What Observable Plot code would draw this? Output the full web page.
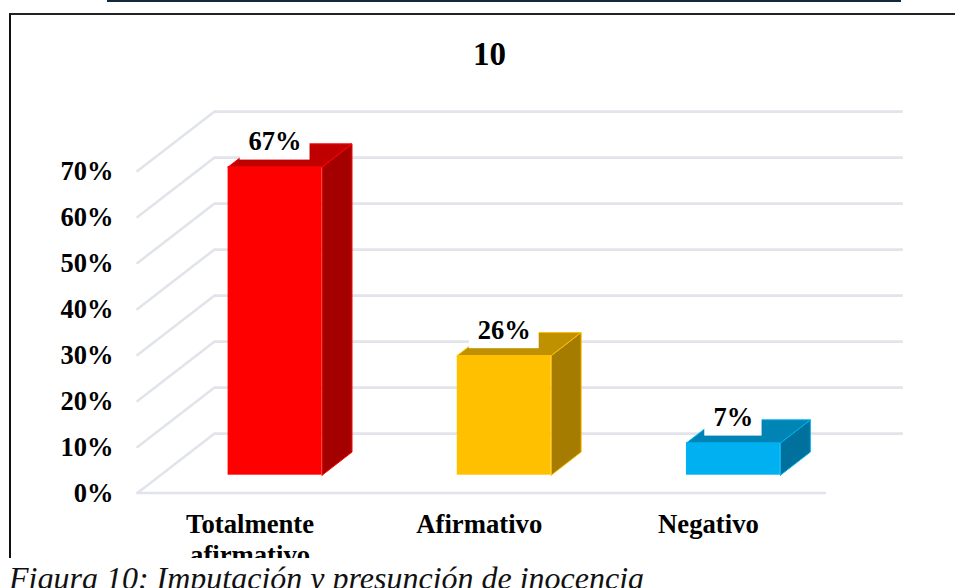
<!DOCTYPE html>
<html>
<head>
<meta charset="utf-8">
<script src="https://cdn.jsdelivr.net/npm/d3@7"></script>
<script src="https://cdn.jsdelivr.net/npm/@observablehq/plot@0.6"></script>
<style>
  html, body { margin: 0; padding: 0; background: #fff; width: 955px; height: 588px; overflow: hidden; }
  #chart { position: absolute; left: 0; top: 0; width: 955px; height: 558px; overflow: hidden; }
  #chart svg { display: block; overflow: hidden; }
  #rule { position: absolute; left: 107px; top: 0; width: 794px; height: 2px; background: #14293a; }
  #frame { position: absolute; left: 8.5px; top: 13px; width: 946.5px; height: 545px; box-sizing: border-box; border-left: 2.5px solid #111; border-top: 2.5px solid #222; }
  #caption { position: absolute; left: 9px; top: 560px; font: italic 32px "Liberation Serif", serif; color: #111; white-space: nowrap; line-height: 36px; }
</style>
</head>
<body>
<div id="chart"></div>
<div id="rule"></div>
<div id="frame"></div>
<div id="caption">Figura 10: Imputación y presunción de inocencia</div>
<script>
const titleText = "10";
const categories = ["Totalmente\nafirmativo", "Afirmativo", "Negativo"];
const values = [67, 26, 7];
const yTicks = [0, 10, 20, 30, 40, 50, 60, 70];
const frontColors = ["#FF0000", "#FFC000", "#00B0F0"];
const sideColors = ["#A50000", "#A67C00", "#00709C"];
const topColors = ["#C00000", "#BF9000", "#0084B5"];
const labelBoxWidths = [0.305, 0.305, 0.25];

// Oblique projection of the 3-D chart: one unit of depth z moves a point this far in data units.
const kx = 0.335, ky = 12.9;
const zFront = -0.3, zBack = 0.7, barDepth = 0.39, halfBar = 0.205;
const P = (x, y, z = 0) => ({x: x + z * kx, y: y + z * ky});
const idx = categories.map((_, i) => i);
const n = categories.length;
const fontFamily = '"Liberation Serif", "Times New Roman", serif';

const gridLines = yTicks.flatMap(t => {
  const pts = [P(-0.5, t, zBack), P(n - 0.5, t, zBack)];
  return [P(-0.5, t, zFront), ...pts].map(p => ({...p, tick: t}));
});
const floorFront = [P(-0.5, 0, zFront), P(n - 0.5, 0, zFront)];

const barFaces = idx.flatMap(i => {
  const l = i - halfBar, r = i + halfBar, v = values[i];
  const side = [P(r, 0), P(r, 0, barDepth), P(r, v, barDepth), P(r, v), P(r, 0)];
  const top = [P(l, v), P(r, v), P(r, v, barDepth), P(l, v, barDepth), P(l, v)];
  return [
    Plot.line(side, {x: "x", y: "y", fill: sideColors[i], stroke: frontColors[i], strokeWidth: 1}),
    Plot.line(top, {x: "x", y: "y", fill: topColors[i], stroke: frontColors[i], strokeWidth: 1})
  ];
});

const plot = Plot.plot({
  width: 955,
  height: 558,
  marginLeft: 113,
  marginRight: 0,
  marginTop: 0,
  marginBottom: 47,
  style: {background: "transparent", fontFamily},
  x: {type: "linear", domain: [-0.5, n - 0.5], range: [160, 847.5]},
  y: {domain: [0, 70], range: [474.7, 152.7]},
  marks: [
    Plot.line(gridLines, {x: "x", y: "y", z: "tick", stroke: "#E1E4EA", strokeWidth: 2.6}),
    Plot.line(floorFront, {x: "x", y: "y", stroke: "#E1E4EA", strokeWidth: 2.6}),
    Plot.axisY({
      ticks: yTicks, tickFormat: d => d + "%", tickSize: 0, tickPadding: 0, dy: 18,
      fontSize: 26.5, fontWeight: "bold", fill: "#000", label: null
    }),
    Plot.axisX({
      ticks: idx, tickFormat: i => categories[i], tickSize: 0, tickPadding: 0, dx: -25,
      fontSize: 26.7, fontWeight: "bold", fill: "#000", label: null, lineHeight: 1.15
    }),
    ...barFaces,
    Plot.rectY(idx, {
      x1: i => i - halfBar, x2: i => i + halfBar, y1: 0, y2: i => values[i],
      fill: i => frontColors[i]
    }),
    Plot.rect(idx, {
      x1: i => i - labelBoxWidths[i] / 2, x2: i => i + labelBoxWidths[i] / 2,
      y1: i => values[i] + 1.5, y2: i => values[i] + 8,
      fill: "#fff"
    }),
    Plot.text(idx, {
      x: i => i, y: i => values[i], dy: -25,
      text: i => values[i] + "%",
      fontSize: 26.5, fontWeight: "bold", fill: "#000"
    }),
    Plot.text([titleText], {
      frameAnchor: "top", dx: -45, dy: 54, lineAnchor: "middle",
      fontSize: 33, fontWeight: "bold", fill: "#000"
    })
  ]
});
document.getElementById("chart").appendChild(plot);
</script>
</body>
</html>
